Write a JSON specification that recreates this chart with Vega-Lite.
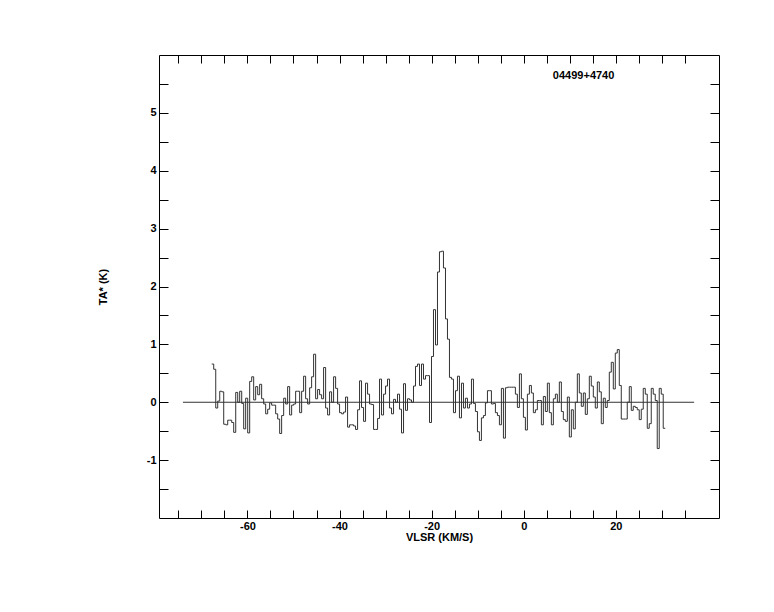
{
  "$schema": "https://vega.github.io/schema/vega-lite/v6.json",
  "width": 560,
  "height": 463,
  "autosize": "none",
  "padding": {"left": 159, "top": 55, "right": 55, "bottom": 94},
  "background": "white",
  "config": {
    "view": {"stroke": "black", "strokeWidth": 1},
    "axis": {
      "labelFont": "Liberation Sans", "labelFontWeight": "bold", "labelFontSize": 11, "labelColor": "black",
      "titleFont": "Liberation Sans", "titleFontWeight": "bold", "titleFontSize": 11, "titleColor": "black",
      "domain": false, "grid": false, "tickColor": "black", "tickWidth": 1
    }
  },
  "resolve": {"axis": {"x": "independent", "y": "independent"}},
  "layer": [
    {
      "data": {"values": [
        {"v": -67.75, "t": 0.66}, {"v": -67.32, "t": 0.57}, {"v": -66.88, "t": -0.10}, {"v": -66.45, "t": 0.02},
        {"v": -66.01, "t": 0.19}, {"v": -65.58, "t": 0.18}, {"v": -65.15, "t": -0.38}, {"v": -64.71, "t": -0.39},
        {"v": -64.28, "t": -0.31}, {"v": -63.85, "t": -0.31}, {"v": -63.41, "t": -0.35}, {"v": -62.98, "t": -0.52},
        {"v": -62.54, "t": 0.17}, {"v": -62.11, "t": 0.0}, {"v": -61.68, "t": 0.19}, {"v": -61.24, "t": -0.02},
        {"v": -60.81, "t": -0.46}, {"v": -60.38, "t": 0.07}, {"v": -59.94, "t": -0.53}, {"v": -59.51, "t": 0.36},
        {"v": -59.07, "t": 0.44}, {"v": -58.64, "t": 0.04}, {"v": -58.21, "t": 0.27}, {"v": -57.77, "t": 0.13},
        {"v": -57.34, "t": 0.31}, {"v": -56.91, "t": 0.06}, {"v": -56.47, "t": -0.03}, {"v": -56.04, "t": -0.20},
        {"v": -55.60, "t": -0.12}, {"v": -55.17, "t": -0.01}, {"v": -54.74, "t": -0.05}, {"v": -54.30, "t": -0.05},
        {"v": -53.87, "t": -0.20}, {"v": -53.43, "t": -0.29}, {"v": -53.00, "t": -0.54}, {"v": -52.57, "t": -0.23},
        {"v": -52.13, "t": 0.07}, {"v": -51.70, "t": -0.03}, {"v": -51.27, "t": 0.27}, {"v": -50.83, "t": -0.22},
        {"v": -50.40, "t": -0.05}, {"v": -49.96, "t": -0.03}, {"v": -49.53, "t": 0.19}, {"v": -49.10, "t": 0.19},
        {"v": -48.66, "t": -0.18}, {"v": -48.23, "t": 0.19}, {"v": -47.80, "t": 0.45}, {"v": -47.36, "t": 0.06},
        {"v": -46.93, "t": -0.03}, {"v": -46.49, "t": 0.25}, {"v": -46.06, "t": 0.44}, {"v": -45.63, "t": 0.83},
        {"v": -45.19, "t": 0.06}, {"v": -44.76, "t": 0.22}, {"v": -44.33, "t": 0.13}, {"v": -43.89, "t": 0.06},
        {"v": -43.46, "t": 0.60}, {"v": -43.02, "t": -0.10}, {"v": -42.59, "t": -0.22}, {"v": -42.16, "t": 0.18},
        {"v": -41.72, "t": 0.0}, {"v": -41.29, "t": 0.44}, {"v": -40.85, "t": 0.24}, {"v": -40.42, "t": -0.03},
        {"v": -39.99, "t": -0.18}, {"v": -39.55, "t": -0.20}, {"v": -39.12, "t": -0.17}, {"v": -38.69, "t": 0.09},
        {"v": -38.25, "t": -0.43}, {"v": -37.82, "t": -0.39}, {"v": -37.38, "t": -0.39}, {"v": -36.95, "t": -0.41},
        {"v": -36.52, "t": -0.47}, {"v": -36.08, "t": -0.13}, {"v": -35.65, "t": 0.37}, {"v": -35.22, "t": -0.09},
        {"v": -34.78, "t": -0.33}, {"v": -34.35, "t": 0.33}, {"v": -33.91, "t": 0.14}, {"v": -33.48, "t": -0.03},
        {"v": -33.05, "t": -0.04}, {"v": -32.61, "t": -0.47}, {"v": -32.18, "t": -0.47}, {"v": -31.74, "t": -0.28},
        {"v": -31.31, "t": 0.40}, {"v": -30.88, "t": -0.22}, {"v": -30.44, "t": 0.14}, {"v": -30.01, "t": 0.28},
        {"v": -29.58, "t": 0.40}, {"v": -29.14, "t": -0.10}, {"v": -28.71, "t": -0.20}, {"v": -28.27, "t": 0.05},
        {"v": -27.84, "t": 0.0}, {"v": -27.41, "t": 0.14}, {"v": -26.97, "t": -0.12}, {"v": -26.54, "t": -0.53},
        {"v": -26.10, "t": 0.32}, {"v": -25.67, "t": -0.14}, {"v": -25.24, "t": 0.06}, {"v": -24.80, "t": 0.04},
        {"v": -24.37, "t": 0.0}, {"v": -23.94, "t": 0.28}, {"v": -23.50, "t": 0.62}, {"v": -23.07, "t": 0.66},
        {"v": -22.63, "t": 0.29}, {"v": -22.20, "t": 0.66}, {"v": -21.77, "t": 0.40}, {"v": -21.33, "t": 0.46},
        {"v": -20.90, "t": 0.46}, {"v": -20.46, "t": -0.35}, {"v": -20.03, "t": 0.79}, {"v": -19.60, "t": 1.60},
        {"v": -19.16, "t": 0.99}, {"v": -18.73, "t": 2.25}, {"v": -18.30, "t": 2.60}, {"v": -17.86, "t": 2.61},
        {"v": -17.43, "t": 2.32}, {"v": -16.99, "t": 1.44}, {"v": -16.56, "t": 1.09}, {"v": -16.13, "t": 0.43},
        {"v": -15.69, "t": 0.40}, {"v": -15.26, "t": -0.18}, {"v": -14.82, "t": 0.20}, {"v": -14.39, "t": 0.45},
        {"v": -13.96, "t": -0.27}, {"v": -13.52, "t": 0.33}, {"v": -13.09, "t": -0.10}, {"v": -12.66, "t": 0.07},
        {"v": -12.22, "t": -0.10}, {"v": -11.79, "t": -0.03}, {"v": -11.35, "t": 0.40}, {"v": -10.92, "t": -0.02},
        {"v": -10.49, "t": -0.16}, {"v": -10.05, "t": -0.51}, {"v": -9.62, "t": -0.66}, {"v": -9.19, "t": -0.27},
        {"v": -8.75, "t": -0.23}, {"v": -8.32, "t": -0.01}, {"v": -7.88, "t": 0.20}, {"v": -7.45, "t": 0.20},
        {"v": -7.02, "t": -0.03}, {"v": -6.58, "t": -0.02}, {"v": -6.15, "t": -0.18}, {"v": -5.71, "t": -0.23},
        {"v": -5.28, "t": -0.39}, {"v": -4.85, "t": 0.24}, {"v": -4.41, "t": -0.62}, {"v": -3.98, "t": 0.25},
        {"v": -3.55, "t": 0.26}, {"v": -3.11, "t": 0.26}, {"v": -2.68, "t": 0.26}, {"v": -2.24, "t": 0.26},
        {"v": -1.81, "t": 0.14}, {"v": -1.38, "t": -0.09}, {"v": -0.94, "t": 0.49}, {"v": -0.51, "t": 0.06},
        {"v": -0.07, "t": -0.26}, {"v": 0.36, "t": -0.48}, {"v": 0.79, "t": 0.14}, {"v": 1.23, "t": 0.29},
        {"v": 1.66, "t": 0.16}, {"v": 2.09, "t": -0.18}, {"v": 2.53, "t": -0.13}, {"v": 2.96, "t": 0.03},
        {"v": 3.40, "t": 0.03}, {"v": 3.83, "t": -0.39}, {"v": 4.26, "t": 0.10}, {"v": 4.70, "t": -0.16},
        {"v": 5.13, "t": 0.33}, {"v": 5.56, "t": -0.18}, {"v": 6.00, "t": -0.39}, {"v": 6.43, "t": 0.06},
        {"v": 6.87, "t": 0.14}, {"v": 7.30, "t": 0.0}, {"v": 7.73, "t": 0.35}, {"v": 8.17, "t": -0.16},
        {"v": 8.60, "t": -0.30}, {"v": 9.03, "t": -0.33}, {"v": 9.47, "t": 0.09}, {"v": 9.90, "t": -0.60},
        {"v": 10.34, "t": -0.13}, {"v": 10.77, "t": -0.46}, {"v": 11.20, "t": 0.0}, {"v": 11.64, "t": 0.49},
        {"v": 12.07, "t": 0.16}, {"v": 12.50, "t": -0.07}, {"v": 12.94, "t": 0.16}, {"v": 13.37, "t": -0.21},
        {"v": 13.81, "t": 0.06}, {"v": 14.24, "t": 0.45}, {"v": 14.67, "t": 0.28}, {"v": 15.11, "t": 0.09},
        {"v": 15.54, "t": -0.10}, {"v": 15.98, "t": 0.35}, {"v": 16.41, "t": 0.18}, {"v": 16.84, "t": -0.37},
        {"v": 17.28, "t": 0.07}, {"v": 17.71, "t": -0.09}, {"v": 18.14, "t": 0.03}, {"v": 18.58, "t": 0.52},
        {"v": 19.01, "t": 0.69}, {"v": 19.45, "t": 0.23}, {"v": 19.88, "t": 0.85}, {"v": 20.31, "t": 0.91},
        {"v": 20.75, "t": 0.29}, {"v": 21.18, "t": -0.29}, {"v": 21.61, "t": -0.29}, {"v": 22.05, "t": -0.29},
        {"v": 22.48, "t": 0.0}, {"v": 22.92, "t": 0.27}, {"v": 23.35, "t": -0.14}, {"v": 23.78, "t": -0.07},
        {"v": 24.22, "t": -0.09}, {"v": 24.65, "t": -0.13}, {"v": 25.08, "t": -0.30}, {"v": 25.52, "t": -0.12},
        {"v": 25.95, "t": 0.24}, {"v": 26.39, "t": 0.14}, {"v": 26.82, "t": -0.45}, {"v": 27.25, "t": -0.37},
        {"v": 27.69, "t": 0.24}, {"v": 28.12, "t": 0.14}, {"v": 28.56, "t": 0.03}, {"v": 28.99, "t": -0.80},
        {"v": 29.42, "t": 0.24}, {"v": 29.86, "t": 0.14}, {"v": 30.29, "t": -0.45}, {"v": 30.73, "t": -0.45}
      ]},
      "mark": {"type": "line", "interpolate": "step-after", "stroke": "#333333", "strokeWidth": 1},
      "encoding": {
        "x": {
          "field": "v", "type": "quantitative",
          "scale": {"domain": [-79.2, 42.4], "nice": false, "zero": false},
          "axis": {
            "orient": "bottom", "title": "VLSR (KM/S)",
            "values": [-75, -70, -65, -60, -55, -50, -45, -40, -35, -30, -25, -20, -15, -10, -5, 0, 5, 10, 15, 20, 25, 30, 35],
            "labelExpr": "datum.value % 20 === 0 ? '' + datum.value : ''",
            "tickSize": -8, "labelPadding": 10, "titlePadding": 0
          }
        },
        "y": {
          "field": "t", "type": "quantitative",
          "scale": {"domain": [-2, 6], "nice": false, "zero": false},
          "axis": {
            "orient": "left", "title": "TA* (K)",
            "values": [-1.5, -1, -0.5, 0, 0.5, 1, 1.5, 2, 2.5, 3, 3.5, 4, 4.5, 5, 5.5],
            "labelExpr": "datum.value % 1 === 0 ? '' + datum.value : ''",
            "tickSize": -9, "labelPadding": 12, "titlePadding": 38
          }
        }
      }
    },
    {
      "data": {"values": [{"a": -74, "b": 37, "y": 0}]},
      "mark": {"type": "rule", "stroke": "#333333", "strokeWidth": 1},
      "encoding": {
        "x": {
          "field": "a", "type": "quantitative",
          "scale": {"domain": [-79.2, 42.4], "nice": false, "zero": false},
          "axis": {
            "orient": "top", "title": null, "labels": false,
            "values": [-75, -70, -65, -60, -55, -50, -45, -40, -35, -30, -25, -20, -15, -10, -5, 0, 5, 10, 15, 20, 25, 30, 35],
            "tickSize": -8
          }
        },
        "x2": {"field": "b"},
        "y": {
          "field": "y", "type": "quantitative",
          "scale": {"domain": [-2, 6], "nice": false, "zero": false},
          "axis": {
            "orient": "right", "title": null, "labels": false,
            "values": [-1.5, -1, -0.5, 0, 0.5, 1, 1.5, 2, 2.5, 3, 3.5, 4, 4.5, 5, 5.5],
            "tickSize": -9
          }
        }
      }
    },
    {
      "data": {"values": [{"x": 13.0, "y": 5.64, "name": "04499+4740"}]},
      "mark": {"type": "text", "font": "Liberation Sans", "fontWeight": "bold", "fontSize": 11, "color": "black", "align": "center", "baseline": "middle"},
      "encoding": {
        "x": {"field": "x", "type": "quantitative", "axis": null},
        "y": {"field": "y", "type": "quantitative", "axis": null},
        "text": {"field": "name"}
      }
    }
  ]
}
